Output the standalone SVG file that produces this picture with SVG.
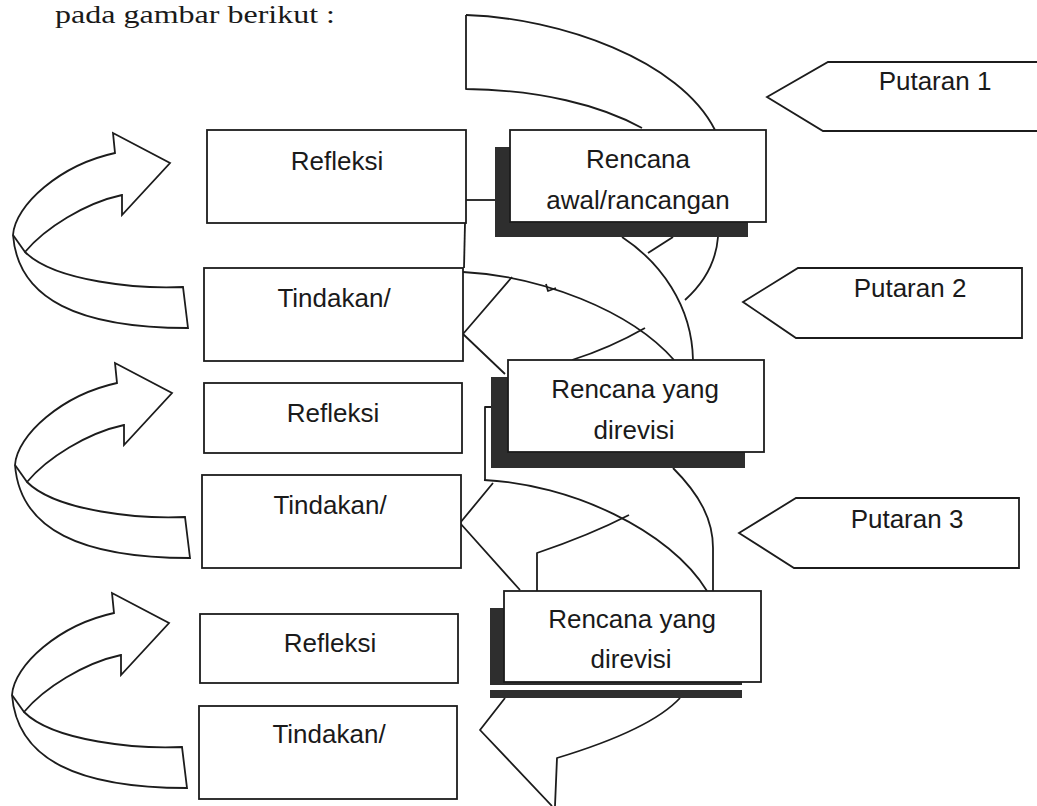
<svg xmlns="http://www.w3.org/2000/svg" width="1037" height="806" viewBox="0 0 1037 806">
<style>
.ln{fill:none;stroke:#1c1c1c;stroke-width:1.8;stroke-linejoin:round}
.bx{fill:#fff;stroke:#1c1c1c;stroke-width:1.8}
.sh{fill:#2e2e2e}
.lb{font-family:"Liberation Sans",Arial,sans-serif;font-size:26px;fill:#1a1a1a;text-anchor:middle}
.hd{font-family:"Liberation Serif","Times New Roman",serif;font-size:26px;fill:#1a1a1a}
</style>
<defs>
<g id="loop">
<path class="bx" d="M183,287 C140,289 55,282 25,252 C45,228 85,203 122,195 L122,215 L170,163 L113,133 L115,153 C60,165 15,205 13,235 C18,300 80,328 188,328 Z"/>
<path class="ln" d="M13,235 L25,252"/>
</g>
</defs>
<rect width="1037" height="806" fill="#fff"/>
<text class="hd" x="55" y="23" textLength="280" lengthAdjust="spacingAndGlyphs">pada gambar berikut :</text>

<g id="connectors">
<path class="ln" d="M466,15 C560,18 680,60 715,130"/>
<path class="ln" d="M466,15 L466,89 C540,90 600,105 642,128"/>
<path class="ln" d="M465,223 L464,268"/>
<path class="ln" d="M466,200 L495,200"/>
<path class="ln" d="M463,272 C540,276 630,310 674,360"/>
<path class="ln" d="M512,277 L463,334 L505,374"/>
<path class="ln" d="M645,328 Q610,348 572,360"/>
<path class="ln" d="M622,237 C660,262 692,305 693,360"/>
<path class="ln" d="M673,237 L648,253"/>
<path class="ln" d="M718,237 C716,262 705,282 685,300"/>
<path class="ln" d="M546,284 L548,291 L556,288"/>
<path class="ln" d="M491,407 L485,407 L485,480"/>
<path class="ln" d="M484,480 C570,484 670,530 707,591"/>
<path class="ln" d="M493,483 L460,523 L520,590"/>
<path class="ln" d="M629,515 Q590,535 537,553 L537,591"/>
<path class="ln" d="M673,468 C700,495 713,520 713,548 L713,591"/>
<path class="ln" d="M505,698 L480,730 L552,806"/>
<path class="ln" d="M680,698 C655,725 600,745 557,758 L555,806"/>
</g>

<g id="loop-1"><use href="#loop"/></g>
<g id="loop-2"><use href="#loop" transform="translate(2,230)"/></g>
<g id="loop-3"><use href="#loop" transform="translate(-1,460)"/></g>

<g id="refleksi-1"><rect class="bx" x="207" y="130" width="259" height="93"/><text class="lb" x="337" y="170">Refleksi</text></g>
<g id="tindakan-1"><rect class="bx" x="204" y="268" width="259" height="93"/><text class="lb" x="334" y="307">Tindakan/</text></g>
<g id="refleksi-2"><rect class="bx" x="204" y="383" width="258" height="70"/><text class="lb" x="333" y="422">Refleksi</text></g>
<g id="tindakan-2"><rect class="bx" x="202" y="475" width="259" height="93"/><text class="lb" x="330" y="514">Tindakan/</text></g>
<g id="refleksi-3"><rect class="bx" x="200" y="614" width="258" height="69"/><text class="lb" x="330" y="652">Refleksi</text></g>
<g id="tindakan-3"><rect class="bx" x="199" y="706" width="258" height="93"/><text class="lb" x="329" y="743">Tindakan/</text></g>

<g id="rencana-1"><rect class="sh" x="495" y="147" width="253" height="90"/><rect class="bx" x="510" y="130" width="256" height="92"/><text class="lb" x="638" y="168">Rencana</text><text class="lb" x="638" y="209">awal/rancangan</text></g>
<g id="rencana-2"><rect class="sh" x="491" y="377" width="254" height="91"/><rect class="bx" x="508" y="360" width="256" height="92"/><text class="lb" x="635" y="398">Rencana yang</text><text class="lb" x="634" y="439">direvisi</text></g>
<g id="rencana-3"><rect class="sh" x="490" y="608" width="252" height="77"/><rect class="sh" x="490" y="690" width="252" height="8"/><rect class="bx" x="504" y="591" width="257" height="91"/><text class="lb" x="632" y="628">Rencana yang</text><text class="lb" x="631" y="668">direvisi</text></g>

<g id="putaran-1"><polygon class="bx" points="767,97 828,62 1045,62 1045,131 823,131"/><text class="lb" x="935" y="90">Putaran 1</text></g>
<g id="putaran-2"><polygon class="bx" points="743,302 798,268 1022,268 1022,338 796,338"/><text class="lb" x="910" y="297">Putaran 2</text></g>
<g id="putaran-3"><polygon class="bx" points="739,533 796,498 1019,498 1019,568 794,568"/><text class="lb" x="907" y="528">Putaran 3</text></g>
</svg>
